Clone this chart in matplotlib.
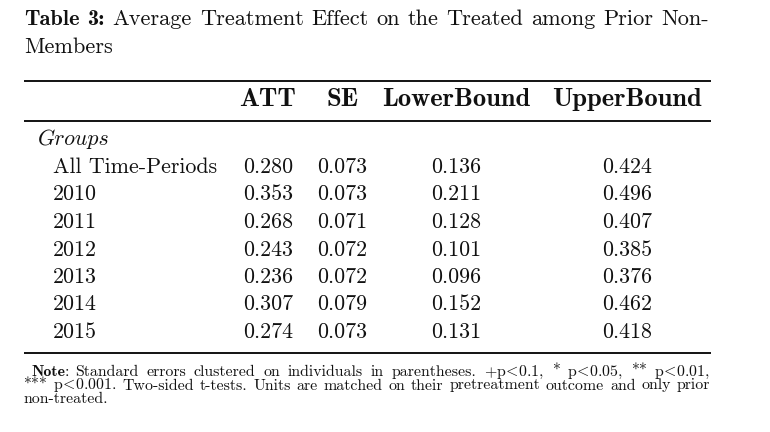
import matplotlib
matplotlib.use("Agg")
import matplotlib.pyplot as plt

plt.rcParams['mathtext.fontset'] = 'cm'
plt.rcParams['axes.unicode_minus'] = False

# Table content
title_bold = ["Table", "3:"]
title_words = ["Average", "Treatment", "Effect", "on", "the", "Treated", "among", "Prior", "Non-"]
title_line2 = "Members"
columns = ["ATT", "SE", "LowerBound", "UpperBound"]
group_header = "Groups"
groups = ["All Time-Periods", "2010", "2011", "2012", "2013", "2014", "2015"]
att = [0.280, 0.353, 0.268, 0.243, 0.236, 0.307, 0.274]
se = [0.073, 0.073, 0.071, 0.072, 0.072, 0.079, 0.073]
lower = [0.136, 0.211, 0.128, 0.101, 0.096, 0.152, 0.131]
upper = [0.424, 0.496, 0.407, 0.385, 0.376, 0.462, 0.418]
LT = r"$\!<\!$"
note_line1 = ("Standard errors clustered on individuals in parentheses. "
              f"+p{LT}0.1, * p{LT}0.05, ** p{LT}0.01,")
note_line2 = (f"*** p{LT}0.001. Two-sided t-tests. Units are matched on their "
              "pretreatment outcome and only prior")
note_line3 = "non-treated."

W, H = 770, 432
fig = plt.figure(figsize=(W / 100, H / 100), dpi=100)
ax = fig.add_axes([0, 0, 1, 1])
ax.set_xlim(0, W)
ax.set_ylim(H, 0)
ax.axis('off')
renderer = fig.canvas.get_renderer()

RM, BF, IT = 'cmr10', 'cmb10', 'cmmi10'
INK = '#111111'
PX = 100 / 72  # pixels per point


def width(s, family, size):
    t = ax.text(0, 0, s, family=family, fontsize=size)
    bb = t.get_window_extent(renderer)
    t.remove()
    return bb.width


def fit(s, family, target):
    return 10 * target / width(s, family, 10)


def fit_line(words, target, space=0.36):
    w10 = sum(width(w, f, 10) for w, f in words) / 10
    return target / (w10 + (len(words) - 1) * space * PX)


def justify(words, x0, x1, y, size):
    # words: list of (text, family)
    ws = [width(w, f, size) for w, f in words]
    gap = (x1 - x0 - sum(ws)) / (len(words) - 1)
    x = x0
    for (w, f), wd in zip(words, ws):
        ax.text(x, y, w, family=f, fontsize=size, ha='left', va='baseline', color=INK)
        x += wd + gap


LEFT, RIGHT = 24, 711

# title
tw = [(w, BF) for w in title_bold] + [(w, RM) for w in title_words]
fs_t = fit_line(tw, 709 - LEFT)
justify(tw, LEFT, 709, 25, fs_t)
ax.text(LEFT, 53, title_line2, family=RM, fontsize=fs_t, ha='left', va='baseline', color=INK)

# rules
for yy in [81, 121, 353]:
    ax.plot([LEFT, RIGHT], [yy, yy], color='black', lw=1.3, solid_capstyle='butt')

# header
fs = fit("All Time-Periods", RM, 165)
fs_b = fit("LowerBound", BF, 148)
col_x = [268, 342.5, 456.5, 627]
for cx, c in zip(col_x, columns):
    ax.text(cx, 106, c, family=BF, fontsize=fs_b, ha='center', va='baseline', color=INK)

ax.text(38, 145, group_header, family=IT, fontsize=fs, ha='left', va='baseline', color=INK)

for i, g in enumerate(groups):
    y = 173 + i * 27.5
    ax.text(53, y, g, family=RM, fontsize=fs, ha='left', va='baseline', color=INK)
    for cx, v in zip(col_x, [att[i], se[i], lower[i], upper[i]]):
        ax.text(cx, y, f"{v:.3f}", family=RM, fontsize=fs, ha='center', va='baseline', color=INK)

# note
n2 = [(w, RM) for w in note_line2.split(" ")]
fs_n = fit_line(n2, 710 - 23)
nw = width("Note", BF, fs_n)
cw = width(":", RM, fs_n)
ax.text(31, 376, "Note", family=BF, fontsize=fs_n, ha='left', va='baseline', color=INK)
ax.text(31 + nw, 376, ":", family=RM, fontsize=fs_n, ha='left', va='baseline', color=INK)
justify([(w, RM) for w in note_line1.split(" ")], 31 + nw + cw + 0.36 * fs_n * PX, 710, 376, fs_n)
justify(n2, 23, 710, 389.5, fs_n)
ax.text(23, 403, note_line3, family=RM, fontsize=fs_n, ha='left', va='baseline', color=INK)

fig.savefig("out.png", dpi=100, facecolor='white')
